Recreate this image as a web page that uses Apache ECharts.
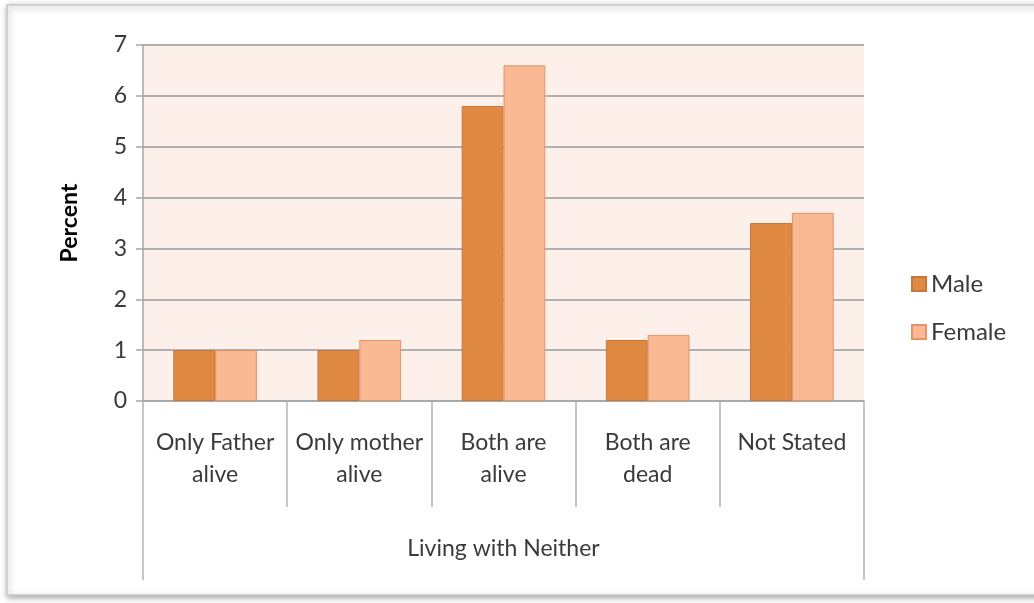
<!DOCTYPE html>
<html>
<head>
<meta charset="utf-8">
<script src="https://cdn.jsdelivr.net/npm/echarts@6/dist/echarts.min.js"></script>
<style>html,body{margin:0;padding:0;background:#fff}#c{width:1034px;height:603px}</style>
</head>
<body>
<div id="c"></div>
<script>
const categories = ['Only Father\nalive', 'Only mother\nalive', 'Both are\nalive', 'Both are\ndead', 'Not Stated'];
const groupLabel = ['Living with Neither'];
const maleValues = [1, 1, 5.8, 1.2, 3.5];
const femaleValues = [1, 1.2, 6.6, 1.3, 3.7];
const seriesNames = ['Male', 'Female'];

const FONT = "Lato, 'Open Sans', sans-serif";
const chart = echarts.init(document.getElementById('c'));
chart.setOption({
  animation: false,
  backgroundColor: '#ffffff',
  graphic: [{
    type: 'rect', z: -10, silent: true,
    shape: { x: 7, y: 5, width: 1040, height: 590 },
    style: { fill: '#ffffff', stroke: '#c8c8c8', lineWidth: 1.5, shadowBlur: 6, shadowColor: 'rgba(0,0,0,0.35)', shadowOffsetX: 1, shadowOffsetY: 2 }
  }],
  grid: { left: 143, right: 170, top: 45, bottom: 202, show: true, backgroundColor: '#fdefe9', borderWidth: 0 },
  legend: {
    orient: 'vertical', left: 906, top: 267, itemGap: 24, itemWidth: 14, itemHeight: 14,
    icon: 'rect',
    textStyle: { fontFamily: FONT, fontSize: 24, color: '#3a3a3a' },
    data: seriesNames
  },
  xAxis: [{
    type: 'category', data: categories, gridIndex: 0,
    axisLine: { show: true, lineStyle: { color: '#a6a6a6', width: 1.5 } },
    axisTick: { show: true, length: 106, interval: 0, lineStyle: { color: '#b4b4b4', width: 1.5 } },
    axisLabel: { interval: 0, margin: 26, fontFamily: FONT, fontSize: 23, color: '#3a3a3a', lineHeight: 32 }
  }, {
    type: 'category', data: groupLabel, gridIndex: 0, position: 'bottom', offset: 106,
    axisLine: { show: false },
    axisTick: { show: true, length: 73, lineStyle: { color: '#b4b4b4', width: 1.5 } },
    axisLabel: { margin: 30, fontFamily: FONT, fontSize: 23, color: '#3a3a3a' }
  }],
  yAxis: {
    type: 'value', min: 0, max: 7, interval: 1,
    name: 'Percent', nameLocation: 'middle', nameGap: 62, nameRotate: 90,
    nameTextStyle: { fontFamily: FONT, fontSize: 23, fontWeight: 'bold', color: '#000' },
    axisLine: { show: true, lineStyle: { color: '#a6a6a6', width: 1.5 } },
    axisTick: { show: true, length: 7, lineStyle: { color: '#a6a6a6', width: 1.5 } },
    axisLabel: { margin: 16, fontFamily: FONT, fontSize: 23, color: '#3a3a3a' },
    splitLine: { show: true, lineStyle: { color: '#b0b0b0', width: 2 } }
  },
  series: [{
    name: seriesNames[0], type: 'bar', xAxisIndex: 0, data: maleValues,
    barGap: '0%', barCategoryGap: '42%',
    itemStyle: { color: '#df8943', borderColor: '#c7773a', borderWidth: 1 }
  }, {
    name: seriesNames[1], type: 'bar', xAxisIndex: 0, data: femaleValues,
    barGap: '0%', barCategoryGap: '42%',
    itemStyle: { color: '#fab893', borderColor: '#e09468', borderWidth: 1 }
  }]
});
</script>
</body>
</html>
